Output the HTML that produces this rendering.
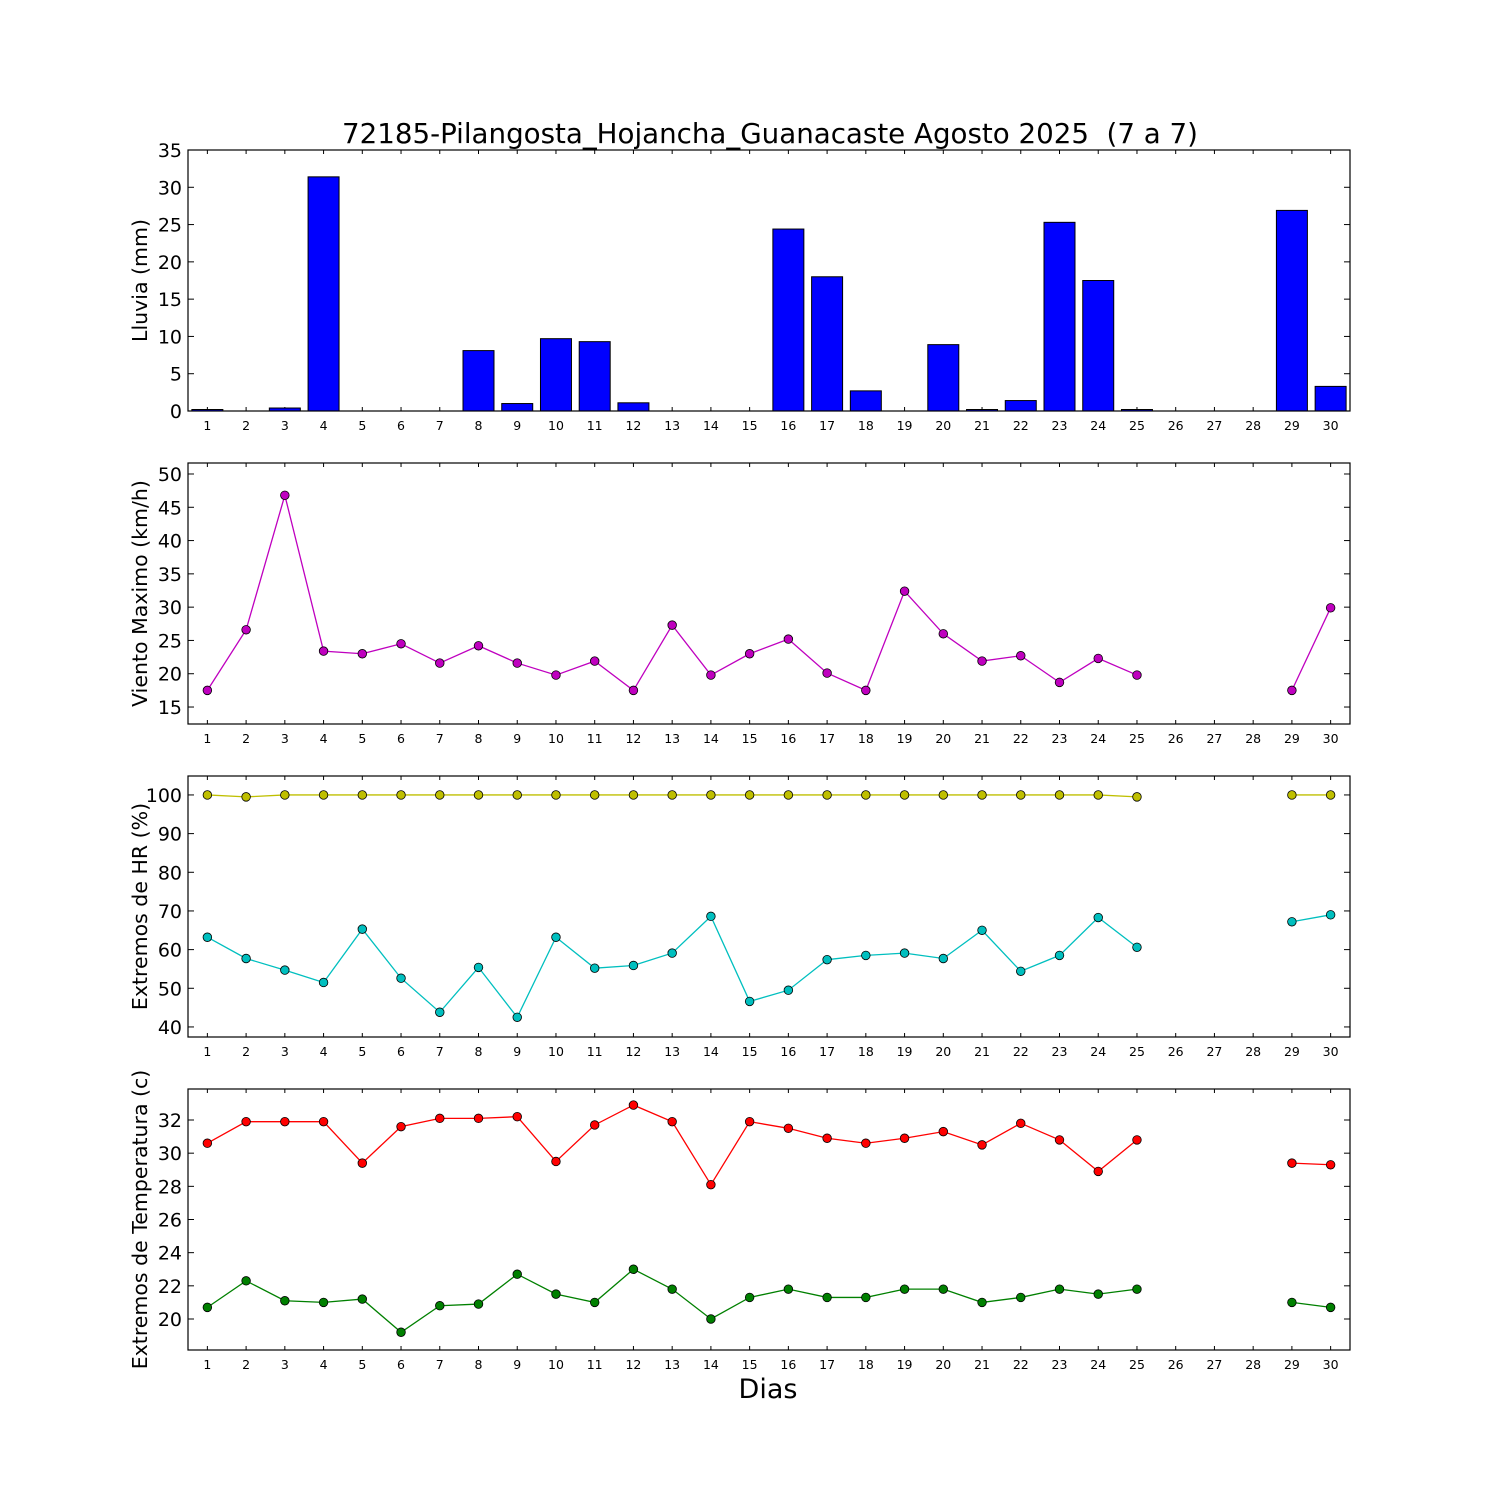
<!DOCTYPE html>
<html><head><meta charset="utf-8"><style>
html,body{margin:0;padding:0;background:#fff}
svg{display:block;font-family:"DejaVu Sans","Liberation Sans",sans-serif}
</style></head><body>
<svg id="chart" width="1500" height="1500" xmlns="http://www.w3.org/2000/svg">
<rect width="1500" height="1500" fill="#fff"/>
<text x="770" y="143" font-size="27.7" text-anchor="middle" style="white-space:pre" xml:space="preserve">72185-Pilangosta_Hojancha_Guanacaste Agosto 2025  (7 a 7)</text>
<text x="768" y="1398" font-size="27" text-anchor="middle">Dias</text>
</svg>
<script>
const days = [1,2,3,4,5,6,7,8,9,10,11,12,13,14,15,16,17,18,19,20,21,22,23,24,25,26,27,28,29,30];
const rain = [0.2,0,0.4,31.4,0,0,0,8.1,1.0,9.7,9.3,1.1,0,0,0,24.4,18.0,2.7,0,8.9,0.2,1.4,25.3,17.5,0.2,0,0,0,26.9,3.3];
const wind = [17.5,26.6,46.8,23.4,23.0,24.5,21.6,24.2,21.6,19.8,21.9,17.5,27.3,19.8,23.0,25.2,20.1,17.5,32.4,26.0,21.9,22.7,18.7,22.3,19.8,null,null,null,17.5,29.9];
const hrMax = [100,99.5,100,100,100,100,100,100,100,100,100,100,100,100,100,100,100,100,100,100,100,100,100,100,99.5,null,null,null,100,100];
const hrMin = [63.2,57.7,54.7,51.5,65.3,52.6,43.8,55.4,42.5,63.2,55.2,55.9,59.1,68.6,46.6,49.5,57.4,58.5,59.1,57.7,65.0,54.4,58.5,68.3,60.6,null,null,null,67.2,69.0];
const tMax = [30.6,31.9,31.9,31.9,29.4,31.6,32.1,32.1,32.2,29.5,31.7,32.9,31.9,28.1,31.9,31.5,30.9,30.6,30.9,31.3,30.5,31.8,30.8,28.9,30.8,null,null,null,29.4,29.3];
const tMin = [20.7,22.3,21.1,21.0,21.2,19.2,20.8,20.9,22.7,21.5,21.0,23.0,21.8,20.0,21.3,21.8,21.3,21.3,21.8,21.8,21.0,21.3,21.8,21.5,21.8,null,null,null,21.0,20.7];
const rainTicks = [0,5,10,15,20,25,30,35];
const windTicks = [15,20,25,30,35,40,45,50];
const hrTicks = [40,50,60,70,80,90,100];
const tTicks = [20,22,24,26,28,30,32];

const svg = document.getElementById('chart');
const NS = 'http://www.w3.org/2000/svg';
const L = 188, R = 1350;
function mk(tag, attrs, parent){ const e=document.createElementNS(NS,tag); for(const k in attrs) e.setAttribute(k,attrs[k]); (parent||svg).appendChild(e); return e; }
function xs(d){ return L + (d-0.5)*(R-L)/30; }

function panel(name, top, bottom, ymin, ymax, ticks, label){
  const g = mk('g',{});
  
  
  const ys = v => bottom - (v-ymin)/(ymax-ymin)*(bottom-top);
  ticks.forEach(t=>{
    const y = ys(t);
    mk('line',{x1:L,x2:L+6,y1:y,y2:y,stroke:'#000'},g);
    mk('line',{x1:R,x2:R-6,y1:y,y2:y,stroke:'#000'},g);
    const tx = mk('text',{x:L-6,y:y+7,'font-size':19,'text-anchor':'end'},g);
    tx.textContent = t;
    
    
  });
  days.forEach(d=>{
    const x = xs(d);
    mk('line',{x1:x,x2:x,y1:bottom,y2:bottom-4,stroke:'#000'},g);
    mk('line',{x1:x,x2:x,y1:top,y2:top+4,stroke:'#000'},g);
    const tx = mk('text',{x:x,y:bottom+19,'font-size':12.5,'text-anchor':'middle'},g);
    tx.textContent = d;
    
    
  });
  const cy=(top+bottom)/2;
  const yl = mk('text',{x:0,y:0,'font-size':20.5,'text-anchor':'middle',transform:`translate(147,${cy}) rotate(-90)`},g);
  yl.textContent = label;
  
  
  return {g, ys, top, bottom};
}

function line(p, vals, color, name){
  let segs=[], cur=[];
  vals.forEach((v,i)=>{ if(v==null){ if(cur.length) segs.push(cur); cur=[]; } else cur.push([xs(days[i]),p.ys(v)]); });
  if(cur.length) segs.push(cur);
  segs.forEach(s=>{
    const pl = mk('polyline',{points:s.map(q=>q.join(',')).join(' '),fill:'none',stroke:color,'stroke-width':1.3},p.g);
    
    
  });
  vals.forEach((v,i)=>{ if(v==null) return;
    const c = mk('circle',{cx:xs(days[i]),cy:p.ys(v),r:4.3,fill:color,stroke:'#000','stroke-width':0.8},p.g);
    
    
  });
}
function frame(p){ mk('rect',{x:L,y:p.top,width:R-L,height:p.bottom-p.top,fill:'none',stroke:'#000','stroke-width':1.2},p.g); }

const p1 = panel('rain',150,411,0,35,rainTicks,'Lluvia (mm)');
const bw = (R-L)/30*0.8;
rain.forEach((v,i)=>{
  const y = p1.ys(v);
  const b = mk('rect',{x:xs(days[i])-bw/2,y:y,width:bw,height:p1.bottom-y,fill:'#0000ff',stroke:'#000','stroke-width':1},p1.g);
  
  
});
frame(p1);

const p2 = panel('wind',463,724,12.45,51.65,windTicks,'Viento Maximo (km/h)');
line(p2, wind, '#bf00bf', 'wind'); frame(p2);

const p3 = panel('humidity',776,1037,37.4,104.9,hrTicks,'Extremos de HR (%)');
line(p3, hrMax, '#bfbf00', 'hr-max'); line(p3, hrMin, '#00bfbf', 'hr-min'); frame(p3);

const p4 = panel('temperature',1089,1350,18.13,33.87,tTicks,'Extremos de Temperatura (c)');
line(p4, tMax, '#ff0000', 'temp-max'); line(p4, tMin, '#008000', 'temp-min'); frame(p4);
</script>
</body></html>
